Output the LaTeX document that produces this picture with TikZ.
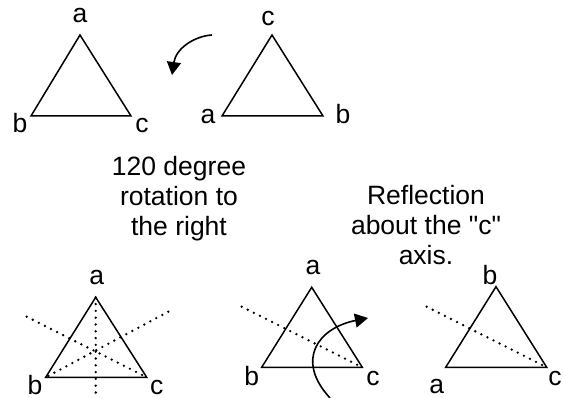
\documentclass[tikz,border=0pt]{standalone}
\usepackage{fontspec}
\setmainfont{Liberation Sans}[Ligatures=TeXOff]
\usetikzlibrary{arrows.meta}
\begin{document}
\begin{tikzpicture}[x=1pt,y=-1pt,
  tri/.style={line width=1.5pt, line join=miter},
  dots/.style={line width=2.6pt, line cap=round, dash pattern=on 0pt off 6.8pt},
  lbl/.style={font=\fontsize{26.5}{30}\selectfont, anchor=base, inner sep=0pt},
  txt/.style={font=\fontsize{26.5}{30}\selectfont, anchor=north, inner sep=0pt, align=center},
  curvarrow/.style={line width=1.6pt, -{Triangle[length=13pt,width=14pt]}}]
\useasboundingbox (0,0) rectangle (563,398);
\fill[white] (0,0) rectangle (563,398);
% top left triangle
\coordinate (t1a) at (80,35);
\coordinate (t1b) at (31,116);
\coordinate (t1c) at (131,116);
\draw[tri] (t1a) -- (t1b) -- (t1c) -- cycle;
\node[lbl] (l1a) at (80,23) {a};
\node[lbl] (l1b) at (20,133) {b};
\node[lbl] (l1c) at (142,133) {c};
% top right triangle
\coordinate (t2c) at (272,35);
\coordinate (t2a) at (222,116);
\coordinate (t2b) at (323,116);
\draw[tri] (t2c) -- (t2a) -- (t2b) -- cycle;
\node[lbl] (l2c) at (268,26) {c};
\node[lbl] (l2a) at (208,124) {a};
\node[lbl] (l2b) at (343,124) {b};
% rotation arrow
\coordinate (r1s) at (212,35);
\coordinate (r1e) at (172,75);
\draw[curvarrow] (r1s) .. controls (195,36) and (176,48) .. (r1e);
% rotation text
\node[txt] (rottext) at (179,154) {\strut 120 degree\\\strut rotation to\\\strut the right};
% reflection text
\node[txt] (reftext) at (426,183) {\strut Reflection\\\strut about the "c"\\\strut axis.};
% bottom left triangle
\coordinate (t3a) at (95.7,297.3);
\coordinate (t3b) at (45.7,377.3);
\coordinate (t3c) at (146.7,377.3);
\coordinate (t3v) at (95.7,398);
\coordinate (t3l) at (26.7,316.7);
\coordinate (t3r) at (168.3,311.7);
\draw[tri] (t3a) -- (t3b) -- (t3c) -- cycle;
\draw[dots] (t3a) -- (t3v);
\draw[dots] (t3l) -- (t3c);
\draw[dots] (t3r) -- (t3b);
\node[lbl] (l3a) at (96.7,285) {a};
\node[lbl] (l3b) at (35,395) {b};
\node[lbl] (l3c) at (156.7,395) {c};
% bottom middle triangle
\coordinate (t4a) at (311.7,287.3);
\coordinate (t4b) at (261.7,367.3);
\coordinate (t4c) at (362.3,367.3);
\coordinate (t4l) at (241.7,306.7);
\draw[tri] (t4a) -- (t4b) -- (t4c) -- cycle;
\draw[dots] (t4l) -- (t4c);
\node[lbl] (l4a) at (313,275) {a};
\node[lbl] (l4b) at (251.7,386) {b};
\node[lbl] (l4c) at (373,386) {c};
% reflection arrow
\coordinate (r2s) at (330,398);
\coordinate (r2e) at (368,318);
\draw[curvarrow] (r2s) .. controls (295,360) and (318,328) .. (r2e);
% bottom right triangle
\coordinate (t5b) at (496,286.7);
\coordinate (t5a) at (445.7,367.3);
\coordinate (t5c) at (546.7,367.3);
\coordinate (t5l) at (426.7,306.7);
\draw[tri] (t5b) -- (t5a) -- (t5c) -- cycle;
\draw[dots] (t5l) -- (t5c);
\node[lbl] (l5b) at (490,285) {b};
\node[lbl] (l5a) at (436.7,394) {a};
\node[lbl] (l5c) at (555,386) {c};
\end{tikzpicture}
\end{document}
